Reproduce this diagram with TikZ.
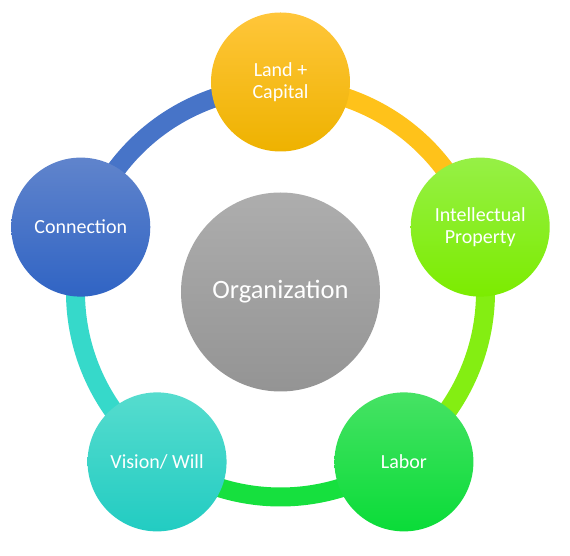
\documentclass[tikz,border=0pt]{standalone}
\usepackage{fontspec}
\setmainfont{Carlito}
\definecolor{cOrange}{HTML}{FFC21A}
\definecolor{cLime}{HTML}{84EE12}
\definecolor{cGreen}{HTML}{16E03E}
\definecolor{cTeal}{HTML}{36D9CA}
\definecolor{cBlue}{HTML}{4774C8}
\tikzset{
  ringseg/.style={line width=19pt},
  petal/.style={circle, minimum size=139pt, inner sep=0pt, text=white, font=\fontsize{20}{22}\selectfont, align=center},
}
\begin{document}
\begin{tikzpicture}[x=1pt,y=1pt]
\useasboundingbox (-280.5,-264) rectangle (289.5,292);
\coordinate (O) at (0,0);
% ring
\draw[ringseg, cOrange] (O) ++(90:205) arc[start angle=90, end angle=18, radius=205];
\draw[ringseg, cLime] (O) ++(18:205) arc[start angle=18, end angle=-54, radius=205];
\draw[ringseg, cGreen] (O) ++(-54:205) arc[start angle=-54, end angle=-126, radius=205];
\draw[ringseg, cTeal] (O) ++(-126:205) arc[start angle=-126, end angle=-198, radius=205];
\draw[ringseg, cBlue] (O) ++(162:205) arc[start angle=162, end angle=90, radius=205];
% center
\node[circle, minimum size=199pt, inner sep=0pt, top color=black!32, bottom color=black!42, text=white, font=\fontsize{26.5}{30}\selectfont] (org) at (O) {Organization};
% petals
\node[petal, top color={rgb,255:red,255;green,198;blue,58}, bottom color={rgb,255:red,238;green,178;blue,0}] (land) at (90:210) {Land +\\Capital};
\node[petal, top color={rgb,255:red,150;green,240;blue,70}, bottom color={rgb,255:red,124;green,236;blue,0}] (ip) at (18:210) {Intellectual\\Property};
\node[petal, top color={rgb,255:red,70;green,226;blue,100}, bottom color={rgb,255:red,10;green,220;blue,56}] (labor) at (-54:210) {Labor};
\node[petal, top color={rgb,255:red,86;green,220;blue,206}, bottom color={rgb,255:red,34;green,204;blue,194}] (vision) at (-126:210) {Vision/ Will};
\node[petal, top color={rgb,255:red,96;green,132;blue,204}, bottom color={rgb,255:red,48;green,100;blue,196}] (conn) at (162:210) {Connection};
\end{tikzpicture}
\end{document}
